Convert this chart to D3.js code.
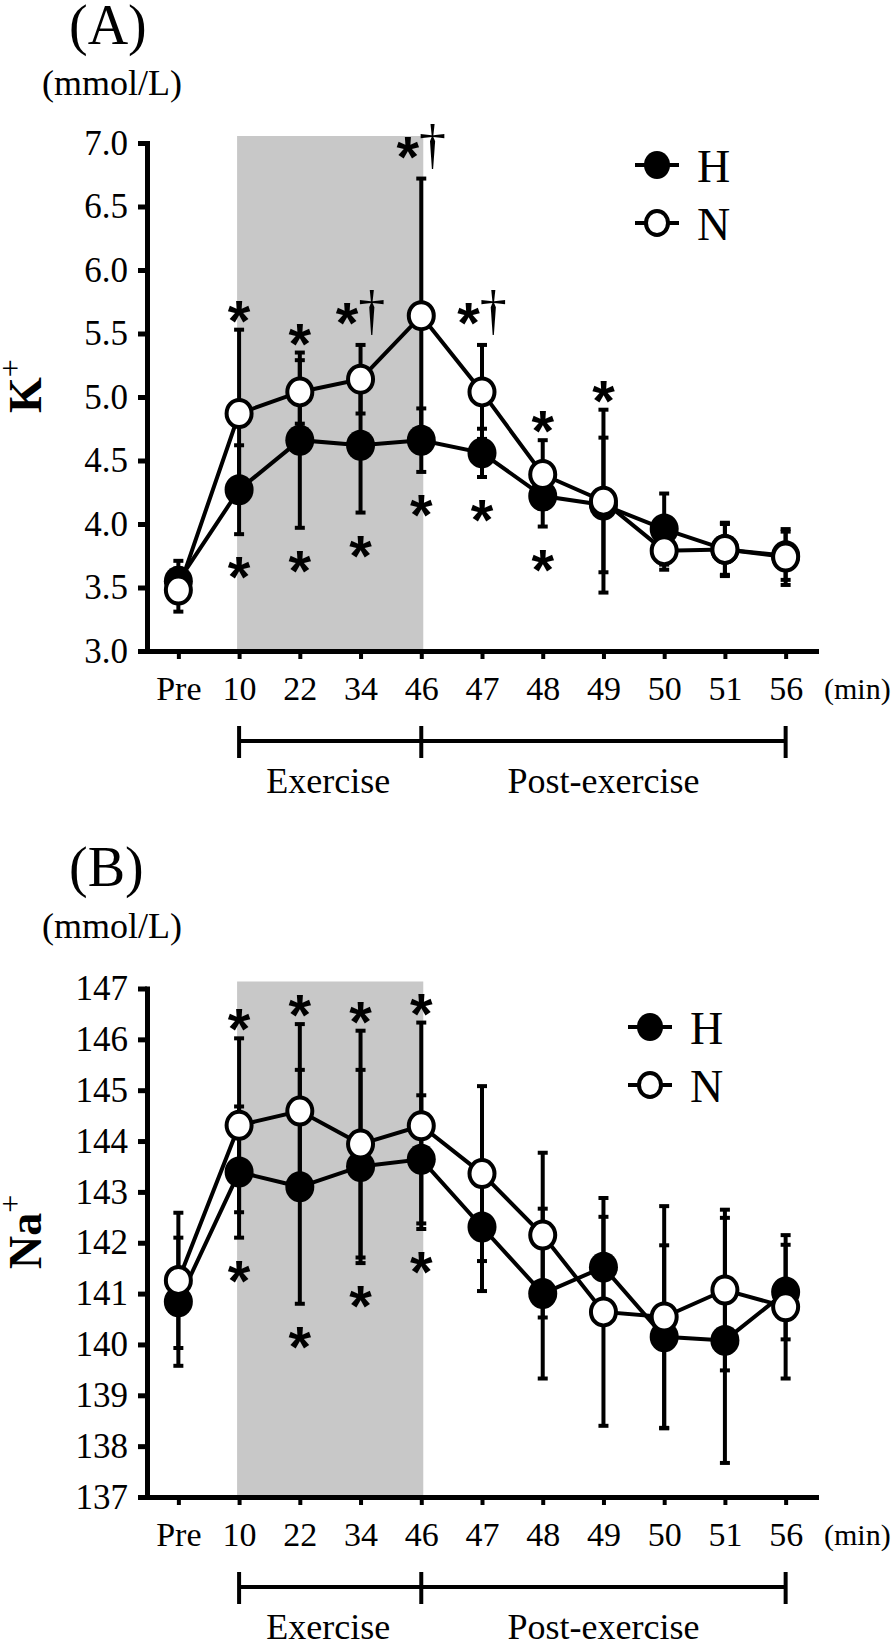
<!DOCTYPE html>
<html>
<head>
<meta charset="utf-8">
<script src="https://cdn.jsdelivr.net/npm/d3@7"></script>
<style>
body { margin: 0; background: #fff; }
text { fill: #000; }
</style>
</head>
<body>
<svg class="chart"></svg>
<script>
// sampling times (x categories)
var times = ["Pre", "10", "22", "34", "46", "47", "48", "49", "50", "51", "56"];

// (A) K+ , mmol/L
var kH    = [3.55, 4.27, 4.66, 4.62, 4.66, 4.56, 4.22, 4.15, 3.96, 3.80, 3.75];
var kHsd  = [0.16, 0.35, 0.69, 0.53, 0.25, 0.19, 0.24, 0.53, 0.28, 0.21, 0.19];
var kN    = [3.48, 4.87, 5.04, 5.14, 5.64, 5.04, 4.39, 4.18, 3.79, 3.80, 3.74];
var kNsd  = [0.17, 0.66, 0.25, 0.27, 1.08, 0.37, 0.27, 0.72, 0.15, 0.20, 0.22];
var kAbove = ["", "*", "*", "*†", "*†", "*†", "*", "*", "", "", ""];
var kBelow = ["", "*", "*", "*", "*", "*", "*", "", "", "", ""];
var kTicks = [3.0, 3.5, 4.0, 4.5, 5.0, 5.5, 6.0, 6.5, 7.0];

// (B) Na+ , mmol/L
var naH    = [140.84, 143.39, 143.10, 143.50, 143.64, 142.31, 141.00, 141.52, 140.15, 140.08, 141.03];
var naHsd  = [1.26, 1.29, 2.30, 1.90, 1.26, 1.26, 1.67, 0.99, 1.80, 2.41, 0.93];
var naN    = [141.26, 144.31, 144.59, 143.94, 144.30, 143.36, 142.15, 140.64, 140.54, 141.07, 140.74];
var naNsd  = [1.33, 1.71, 1.71, 2.23, 2.03, 1.72, 1.62, 2.24, 2.18, 1.58, 1.41];
var naAbove = ["", "*", "*", "*", "*", "", "", "", "", "", ""];
var naBelow = ["", "*", "*", "*", "*", "", "", "", "", "", ""];
var naTicks = [137, 138, 139, 140, 141, 142, 143, 144, 145, 146, 147];

var legendNames = ["H", "N"];

var serif = "'Liberation Serif', 'Times New Roman', serif";
var sans = "'Liberation Sans', Arial, sans-serif";

var svg = d3.select(".chart").attr("width", 894).attr("height", 1639);

var x = d3.scalePoint().domain(times).range([148, 816]).padding(0.5);

function drawPanel(p) {
    var g = svg.append("g");
    var y = d3.scaleLinear().domain(p.domain).range([p.bottom, p.top]);

    // exercise period shading
    g.append("rect")
        .attr("x", x("10") - 2)
        .attr("width", x("46") - x("10") + 4)
        .attr("y", p.top - 7)
        .attr("height", p.bottom - p.top + 7)
        .attr("fill", "#c8c8c8");

    // axes
    var ya = g.append("g")
        .attr("transform", "translate(147,0)")
        .call(d3.axisLeft(y).tickValues(p.ticks).tickFormat(p.fmt)
            .tickSize(9).tickPadding(10).tickSizeOuter(0));
    ya.select(".domain").attr("stroke-width", 5).attr("stroke-linecap", "square");
    ya.selectAll(".tick line").attr("stroke-width", 5);
    ya.selectAll(".tick text").attr("font-family", serif).attr("font-size", 35);

    var xa = g.append("g")
        .attr("transform", "translate(0," + p.bottom + ")")
        .call(d3.axisBottom(x).tickSize(8).tickPadding(17).tickSizeOuter(0));
    xa.select(".domain").attr("stroke-width", 5).attr("stroke-linecap", "square");
    xa.selectAll(".tick line").attr("stroke-width", 4);
    xa.selectAll(".tick text").attr("font-family", serif).attr("font-size", 34);

    g.append("text").attr("x", 824).attr("y", p.bottom + 48)
        .attr("font-family", serif).attr("font-size", 30).text("(min)");

    // panel letter and unit
    g.append("text").attr("x", 69).attr("y", p.letterY)
        .attr("font-family", serif).attr("font-size", 56).text(p.letter);
    g.append("text").attr("x", 42).attr("y", p.unitY)
        .attr("font-family", serif).attr("font-size", 36).text("(mmol/L)");

    // y title, rotated, with superscript +
    var yt = g.append("text")
        .attr("transform", "translate(41," + ((p.top + p.bottom) / 2 - 11) + ") rotate(-90)")
        .attr("text-anchor", "middle")
        .attr("font-family", serif);
    yt.append("tspan").attr("font-size", 46).attr("font-weight", "bold").text(p.title);
    yt.append("tspan").attr("font-size", 32).attr("dy", -20).text("+");

    // bracket under the x axis
    var by = p.bottom + 90;
    g.append("line").attr("x1", x("10")).attr("x2", x("56"))
        .attr("y1", by).attr("y2", by).attr("stroke", "#000").attr("stroke-width", 4);
    ["10", "46", "56"].forEach(function (t) {
        g.append("line").attr("x1", x(t)).attr("x2", x(t))
            .attr("y1", p.bottom + 75).attr("y2", p.bottom + 107)
            .attr("stroke", "#000").attr("stroke-width", 4);
    });
    g.append("text").attr("x", (x("10") + x("46")) / 2 - 2).attr("y", p.bottom + 142)
        .attr("text-anchor", "middle").attr("font-family", serif).attr("font-size", 36)
        .text("Exercise");
    g.append("text").attr("x", (x("46") + x("56")) / 2).attr("y", p.bottom + 142)
        .attr("text-anchor", "middle").attr("font-family", serif).attr("font-size", 36)
        .text("Post-exercise");

    var series = [
        {mean: p.H, sd: p.Hsd, fill: "#000"},
        {mean: p.N, sd: p.Nsd, fill: "#fff"}
    ];

    // error bars
    series.forEach(function (s) {
        var eb = g.append("g").selectAll("g").data(times).enter().append("g");
        eb.append("line")
            .attr("x1", function (t) { return x(t); })
            .attr("x2", function (t) { return x(t); })
            .attr("y1", function (t, i) { return y(s.mean[i] - s.sd[i]); })
            .attr("y2", function (t, i) { return y(s.mean[i] + s.sd[i]); })
            .attr("stroke", "#000").attr("stroke-width", 4);
        [-1, 1].forEach(function (sign) {
            eb.append("line")
                .attr("x1", function (t) { return x(t) - 5; })
                .attr("x2", function (t) { return x(t) + 5; })
                .attr("y1", function (t, i) { return y(s.mean[i] + sign * s.sd[i]); })
                .attr("y2", function (t, i) { return y(s.mean[i] + sign * s.sd[i]); })
                .attr("stroke", "#000").attr("stroke-width", 4);
        });
    });

    // lines
    var line = d3.line()
        .x(function (d) { return x(d.t); })
        .y(function (d) { return y(d.v); });
    series.forEach(function (s) {
        g.append("path")
            .datum(times.map(function (t, i) { return {t: t, v: s.mean[i]}; }))
            .attr("d", line)
            .attr("fill", "none").attr("stroke", "#000").attr("stroke-width", 4);
    });

    // markers (N on top)
    series.forEach(function (s) {
        g.append("g").selectAll("ellipse").data(times).enter().append("ellipse")
            .attr("cx", function (t) { return x(t); })
            .attr("cy", function (t, i) { return y(s.mean[i]); })
            .attr("rx", s.fill === "#000" ? 14.5 : 12.5)
            .attr("ry", s.fill === "#000" ? 15.5 : 13.5)
            .attr("fill", s.fill)
            .attr("stroke", s.fill === "#000" ? "none" : "#000")
            .attr("stroke-width", 4);
    });

    // significance marks
    function mark(label, t, cy) {
        if (!label) return;
        var txt = g.append("text").attr("x", x(t)).attr("y", cy + 33)
            .attr("text-anchor", "middle");
        txt.append("tspan").attr("font-family", sans).attr("font-weight", "bold")
            .attr("font-size", 58).text("*");
        if (label.indexOf("†") >= 0) {
            txt.append("tspan").attr("font-family", serif).attr("font-size", 54)
                .attr("dy", -14).text("†");
        }
    }
    times.forEach(function (t, i) {
        var top = Math.max(p.H[i] + p.Hsd[i], p.N[i] + p.Nsd[i]);
        var low = Math.min(p.H[i] - p.Hsd[i], p.N[i] - p.Nsd[i]);
        var a = p.above[i];
        mark(a, t, y(top) - (a.indexOf("†") >= 0 ? 35 : 22));
        mark(p.below[i], t, y(low) + 30);
    });

    // legend
    var lg = g.append("g");
    series.forEach(function (s, k) {
        var ly = p.legend[1] + k * 58;
        lg.append("line").attr("x1", p.legend[0] - 22).attr("x2", p.legend[0] + 22)
            .attr("y1", ly).attr("y2", ly).attr("stroke", "#000").attr("stroke-width", 4);
        lg.append("ellipse").attr("cx", p.legend[0]).attr("cy", ly)
            .attr("rx", s.fill === "#000" ? 13 : 11).attr("ry", s.fill === "#000" ? 14 : 12)
            .attr("fill", s.fill)
            .attr("stroke", s.fill === "#000" ? "none" : "#000").attr("stroke-width", 4);
        lg.append("text").attr("x", p.legend[0] + 40).attr("y", ly + 17)
            .attr("font-family", serif).attr("font-size", 46).text(legendNames[k]);
    });
}

drawPanel({
    letter: "(A)", title: "K",
    domain: [3, 7], top: 143, bottom: 651,
    letterY: 44, unitY: 95,
    ticks: kTicks, fmt: d3.format(".1f"),
    H: kH, Hsd: kHsd, N: kN, Nsd: kNsd,
    above: kAbove, below: kBelow,
    legend: [657, 165]
});

drawPanel({
    letter: "(B)", title: "Na",
    domain: [137, 147], top: 988.5, bottom: 1497,
    letterY: 886, unitY: 938,
    ticks: naTicks, fmt: d3.format("d"),
    H: naH, Hsd: naHsd, N: naN, Nsd: naNsd,
    above: naAbove, below: naBelow,
    legend: [650, 1027]
});
</script>
</body>
</html>
